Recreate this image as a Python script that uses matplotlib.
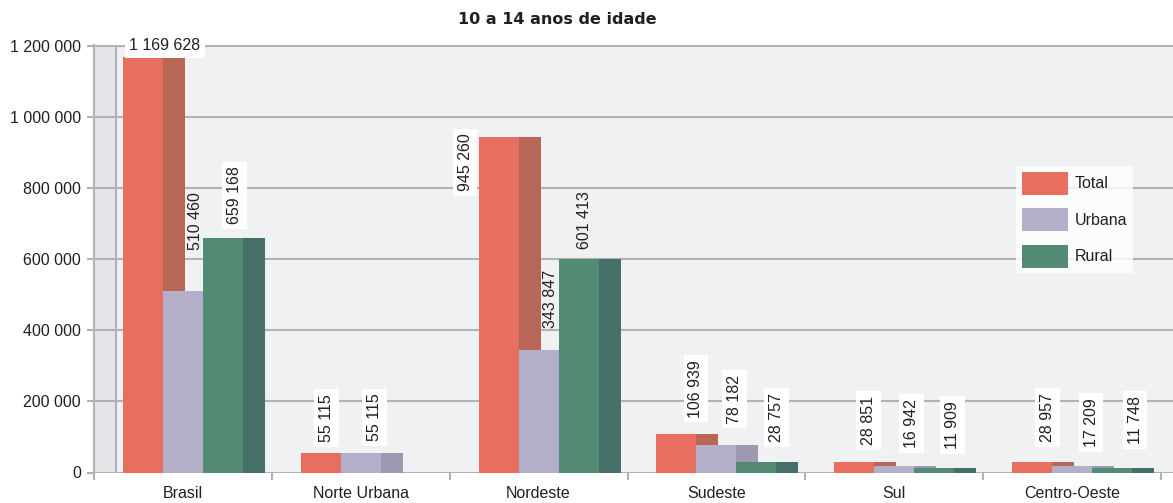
import matplotlib
matplotlib.use('Agg')
import matplotlib.pyplot as plt
from matplotlib.patches import Patch

# ---------------- data ----------------
categories = ['Brasil', 'Norte Urbana', 'Nordeste', 'Sudeste', 'Sul', 'Centro-Oeste']
series_names = ['Total', 'Urbana', 'Rural']
total = [1169628, 55115, 945260, 106939, 28851, 28957]
urbana = [510460, 55115, 343847, 78182, 16942, 17209]
rural = [659168, 0, 601413, 28757, 11909, 11748]
y_ticks = [0, 200000, 400000, 600000, 800000, 1000000, 1200000]
title = '10 a 14 anos de idade'

# ---------------- style ----------------
front_colors = ['#e86e60', '#b3afc9', '#528a73']
side_colors = ['#b86656', '#9e98b0', '#466f6a']
grid_color = '#b2b2b6'
bg_color = '#f0f1f3'
wall_color = '#e5e6e9'
text_color = '#231f20'
FS = 11.5
W, H = 1173, 503
SLOT = 178.0                 # px per category
FRONT = 40.0 / SLOT          # front face width (data units)
SIDE = 22.0 / SLOT           # side face depth (data units)
PX = 72.0 / 100.0            # points per pixel

# label placement tweaks (pixel offsets of label centre from
# (centre of front+side, bar top)); rotation; white box
label_layout = {
    (0, 0): (11.0, -11.3, 0, True),
    (1, 0): (2.0, -69.6, 90, False),
    (2, 0): (0.5, -42.7, 90, True),
    (0, 1): (-5.5, -34.9, 90, True),
    (1, 1): (2.5, -35.4, 90, True),
    (0, 2): (-44.5, 26.0, 90, True),
    (1, 2): (0.5, -51.8, 90, False),
    (2, 2): (-5.0, -38.7, 90, False),
    (0, 3): (8.5, -45.8, 90, True),
    (1, 3): (7.0, -45.7, 90, True),
    (2, 3): (9.0, -44.8, 90, True),
    (0, 4): (3.5, -41.7, 90, True),
    (1, 4): (6.0, -43.0, 90, True),
    (2, 4): (7.5, -43.3, 90, True),
    (0, 5): (4.5, -44.7, 90, True),
    (1, 5): (8.0, -43.9, 90, True),
    (2, 5): (12.0, -48.3, 90, True),
}

plt.rcParams['font.family'] = ['Liberation Sans', 'DejaVu Sans']

fig = plt.figure(figsize=(W / 100, H / 100), dpi=100)
ax_left, ax_right = 94, 1173
ax_top, ax_bot = 44.9, 472.5
ax = fig.add_axes([ax_left / W, (H - ax_bot) / H,
                   (ax_right - ax_left) / W, (ax_bot - ax_top) / H])
ax.set_facecolor(bg_color)

x0 = -0.5 + 1.0 / SLOT
x1 = -0.5 + (ax_right - 93) / SLOT
ax.set_xlim(x0, x1)
ax.set_ylim(0, 1203000)

# left 3D side wall
wall_x = -0.5 + (115 - 93) / SLOT
ax.axvspan(x0, wall_x, color=wall_color, zorder=0, lw=0)
ax.plot([wall_x, wall_x], [0, 1200000], color=grid_color, lw=1.5, zorder=1,
        solid_capstyle='butt')

# gridlines
for t in y_ticks:
    ax.axhline(t, color=grid_color, lw=1.5, zorder=1)

series = [total, urbana, rural]
ncat = len(categories)
for s, vals in enumerate(series):
    xs = [c - 60.0 / SLOT + s * FRONT for c in range(ncat)]
    ax.bar(xs, vals, width=FRONT, align='edge', color=front_colors[s],
           lw=0, zorder=3 + 2 * s)
    ax.bar([x + FRONT for x in xs], vals, width=SIDE, align='edge',
           color=side_colors[s], lw=0, zorder=4 + 2 * s)
    for c, v in enumerate(vals):
        if v <= 0:
            continue
        dx, dy, rot, box = label_layout[(s, c)]
        txt = f'{v:,}'.replace(',', ' ')
        bbox = dict(boxstyle='square,pad=0.3', fc='white', ec='none') if box else None
        ax.annotate(txt, xy=(xs[c] + (FRONT + SIDE) / 2, v),
                    xytext=(dx * PX, -dy * PX), textcoords='offset points',
                    ha='center', va='center', rotation=rot, fontsize=FS,
                    color=text_color, bbox=bbox, zorder=20,
                    rotation_mode='anchor')

# axes / ticks
for sp in ['top', 'right', 'bottom']:
    ax.spines[sp].set_visible(False)
ax.spines['left'].set_color(grid_color)
ax.spines['left'].set_linewidth(1.5)
ax.set_yticks(y_ticks)
ax.set_yticklabels([f'{t:,}'.replace(',', ' ') for t in y_ticks],
                   fontsize=FS, color=text_color)
ax.tick_params(axis='y', length=5, width=1.5, color=grid_color, pad=4.3)
ax.set_xticks(range(ncat))
ax.set_xticklabels(categories, fontsize=FS, color=text_color)
ax.tick_params(axis='x', which='major', length=0, pad=10)
ax.set_xticks([c - 0.5 for c in range(ncat + 1)], minor=True)
ax.tick_params(axis='x', which='minor', length=5, width=1.5, color=grid_color)

# title
fig.text(557.5 / W, 1 - 20 / H, title, ha='center', va='center',
         fontsize=11.5, fontweight='bold', color=text_color,
         family=['DejaVu Sans'])

# legend
handles = [Patch(facecolor=front_colors[i], edgecolor='none') for i in range(3)]
leg = fig.legend(handles, series_names, loc='upper left',
                 bbox_to_anchor=(1016 / W, 1 - 166 / H), frameon=True,
                 fancybox=False, fontsize=FS, handlelength=2.875,
                 handleheight=1.84, labelspacing=0.85, borderpad=0.35,
                 handletextpad=0.45, borderaxespad=0)
leg.get_frame().set_facecolor('white')
leg.get_frame().set_edgecolor('none')
for t in leg.get_texts():
    t.set_color(text_color)

fig.savefig('out.png', dpi=100, facecolor='white')
